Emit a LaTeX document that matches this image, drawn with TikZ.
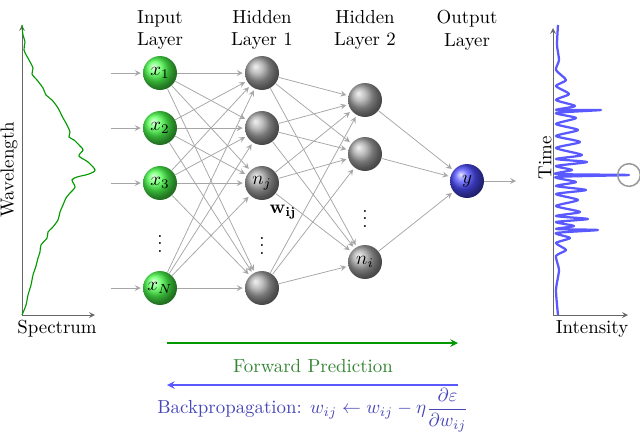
\documentclass[tikz,border=0pt]{standalone}
\usepackage{amsmath}
\usetikzlibrary{positioning}
\begin{document}
\begin{tikzpicture}[x=0.53pt,y=-0.53pt,
    neuron/.style={circle,shading=ball,minimum size=18pt,inner sep=0pt},
    inneuron/.style={neuron,ball color=green!70},
    hidneuron/.style={neuron,ball color=gray!70},
    outneuron/.style={neuron,ball color=blue!70},
    link/.style={->,gray!70,>=stealth,shorten >=1pt},
    layerlab/.style={align=center,font=\normalsize},
  ]
  \useasboundingbox (0,0) rectangle (640,441);

  % layer headers
  \node[layerlab] (LI) at (160,30) {Input\\Layer};
  \node[layerlab] (L1) at (262,30) {Hidden\\Layer 1};
  \node[layerlab] (L2) at (365,30) {Hidden\\Layer 2};
  \node[layerlab] (LO) at (467,30) {Output\\Layer};

  % input layer
  \node[inneuron] (I1) at (160,73) {$x_1$};
  \node[inneuron] (I2) at (160,128) {$x_2$};
  \node[inneuron] (I3) at (160,183) {$x_3$};
  \node[inneuron] (I4) at (160,288) {$x_N$};
  \node (Id) at (160,238) {$\vdots$};

  % hidden layer 1
  \node[hidneuron] (H1) at (262,73) {};
  \node[hidneuron] (H2) at (262,128) {};
  \node[hidneuron] (H3) at (262,183) {$n_j$};
  \node[hidneuron] (H4) at (262,288) {};
  \node (Hd) at (262,240) {$\vdots$};
  \node (W) at (283,212) {$\mathbf{w_{ij}}$};

  % hidden layer 2
  \node[hidneuron] (G1) at (365,100) {};
  \node[hidneuron] (G2) at (365,154) {};
  \node[hidneuron] (G3) at (365,262) {$n_i$};
  \node (Gd) at (365,213) {$\vdots$};

  % output
  \node[outneuron] (O) at (467,181) {$y$};

  \foreach \i in {1,...,4}
    \foreach \j in {1,...,4}
      \draw[link] (I\i) -- (H\j);
  \foreach \i in {1,...,4}
    \foreach \j in {1,2,3}
      \draw[link] (H\i) -- (G\j);
  \foreach \j in {1,2,3}
    \draw[link] (G\j) -- (O);

  \foreach \i in {1,...,4}{
    \coordinate (S\i) at ([xshift=-17pt]I\i.west);
    \draw[link] (S\i) -- (I\i);
  }
  \coordinate (T) at (518,181);
  \draw[link] (O) -- (T);

  % spectrum
  \coordinate (A0) at (22,315);
  \coordinate (A1) at (22,25);
  \coordinate (A2) at (95,315);
  \draw[->,>=stealth,gray!80!black] (A0) -- (A1);
  \draw[->,>=stealth,gray!80!black] (A0) -- (A2);
  \node[rotate=90] (WL) at (9,170) {Wavelength};
  \node (SP) at (57,329) {Spectrum};
  \draw[green!60!black,semithick] plot[smooth] coordinates {
    (22,25) (23,35) (25,42) (24,50) (29,60) (33,68) (32,74) (37,80) (43,88)
    (46,95) (52,100) (58,108) (62,116) (67,125) (70,132) (69,137) (74,140)
    (80,146) (83,150) (79,156) (88,162) (95,170) (89,174) (77,177) (72,180)
    (75,187) (70,193) (66,198) (63,205) (60,212) (58,220) (52,228) (48,232)
    (47,238) (41,245) (40,252) (38,258) (36,266) (33,275) (31,285) (28,295)
    (26,305) (22,315)};

  % output signal
  \coordinate (B0) at (553,315);
  \coordinate (B1) at (553,28);
  \coordinate (B2) at (628,315);
  \draw[->,>=stealth,gray!80!black] (B0) -- (B1);
  \draw[->,>=stealth,gray!80!black] (B0) -- (B2);
  \node[rotate=90] (TI) at (545,158) {Time};
  \node (IN) at (592,329) {Intensity};
  \draw[blue!65,line width=1.2pt,line join=round] plot[smooth,tension=0.4] coordinates {
    (558,25) (557,45) (559,60) (556,70) (566,80) (556,86) (569,94) (556,100)
    (575,106) (556,110) (601,110) (556,113) (576,118) (556,124) (578,130)
    (556,136) (580,142) (556,148) (582,155) (556,159) (587,162) (556,166)
    (572,170) (556,174) (629,175) (556,177) (576,182) (556,186) (586,190)
    (556,194) (578,200) (556,206) (580,212) (556,216) (588,219) (556,222)
    (574,226) (556,229) (598,230) (556,233) (570,238) (556,243) (566,250)
    (556,256) (559,270) (556,290) (558,315)};
  \node[circle,draw=gray!80,thick,minimum size=12pt,inner sep=0pt] (PK) at (629,175) {};

  % training arrows
  \coordinate (F0) at (167,343);
  \coordinate (F1) at (458,343);
  \draw[->,>=stealth,green!60!black,thick] (F0) -- (F1);
  \node[green!40!black!80] (FP) at (313,366) {Forward Prediction};
  \coordinate (K0) at (458,385);
  \coordinate (K1) at (167,385);
  \draw[->,>=stealth,blue!65,thick] (K0) -- (K1);
  \node[blue!45!gray] (BP) at (313,410)
    {Backpropagation: $w_{ij} \leftarrow w_{ij} - \eta\dfrac{\partial\varepsilon}{\partial w_{ij}}$};
\end{tikzpicture}
\end{document}
